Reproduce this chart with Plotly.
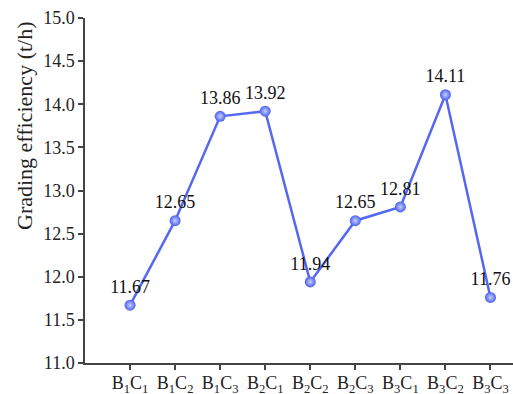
import plotly.graph_objects as go

categories = ["B<sub>1</sub>C<sub>1</sub>", "B<sub>1</sub>C<sub>2</sub>", "B<sub>1</sub>C<sub>3</sub>",
              "B<sub>2</sub>C<sub>1</sub>", "B<sub>2</sub>C<sub>2</sub>", "B<sub>2</sub>C<sub>3</sub>",
              "B<sub>3</sub>C<sub>1</sub>", "B<sub>3</sub>C<sub>2</sub>", "B<sub>3</sub>C<sub>3</sub>"]
efficiency = [11.67, 12.65, 13.86, 13.92, 11.94, 12.65, 12.81, 14.11, 11.76]
y_ticks = [11.0, 11.5, 12.0, 12.5, 13.0, 13.5, 14.0, 14.5, 15.0]
y_title = "Grading efficiency (t/h)"

xpos = list(range(1, len(categories) + 1))
font_family = "Liberation Serif, DejaVu Serif, serif"

fig = go.Figure()
fig.add_trace(go.Scatter(
    x=xpos, y=efficiency,
    mode="lines+markers+text",
    line=dict(color="#5468f2", width=2.5),
    marker=dict(size=11, color="#4a5ff0",
                gradient=dict(type="radial", color="#c8d0ff"),
                line=dict(width=0)),
    text=[f"{v:.2f}" for v in efficiency],
    textposition="top center",
    textfont=dict(family=font_family, size=18, color="#111111"),
    cliponaxis=False,
    showlegend=False,
))

fig.add_annotation(
    text=y_title, textangle=-90, showarrow=False,
    xref="paper", yref="paper",
    x=(25 - 85) / 428, y=(363 - 126) / 345,
    xanchor="center", yanchor="middle",
    font=dict(family=font_family, size=22, color="#222222"),
)

fig.update_layout(
    width=513, height=394,
    margin=dict(l=85, r=0, t=18, b=31),
    paper_bgcolor="white", plot_bgcolor="white",
    font=dict(family=font_family, size=18, color="#222222"),
    xaxis=dict(
        range=[0, 9.5], tickmode="array", tickvals=xpos, ticktext=categories,
        showgrid=False, zeroline=False, showline=True, linecolor="#444444", linewidth=1.5,
        ticks="outside", ticklen=5, tickcolor="#444444", tickwidth=1.5,
        tickfont=dict(family=font_family, size=18, color="#222222"),
        ticklabelstandoff=-2,
        automargin=False,
    ),
    yaxis=dict(
        range=[11.0, 15.0], tickmode="array", tickvals=y_ticks,
        ticktext=[f"{t:.1f}" for t in y_ticks],
        showgrid=False, zeroline=False, showline=True, linecolor="#444444", linewidth=1.5,
        ticks="outside", ticklen=5, tickcolor="#444444", tickwidth=1.5,
        tickfont=dict(family=font_family, size=18, color="#222222"),
        automargin=False,
    ),
)

fig.write_html("out.html", config={"displayModeBar": False},
               post_script="document.body.style.margin='0';")
